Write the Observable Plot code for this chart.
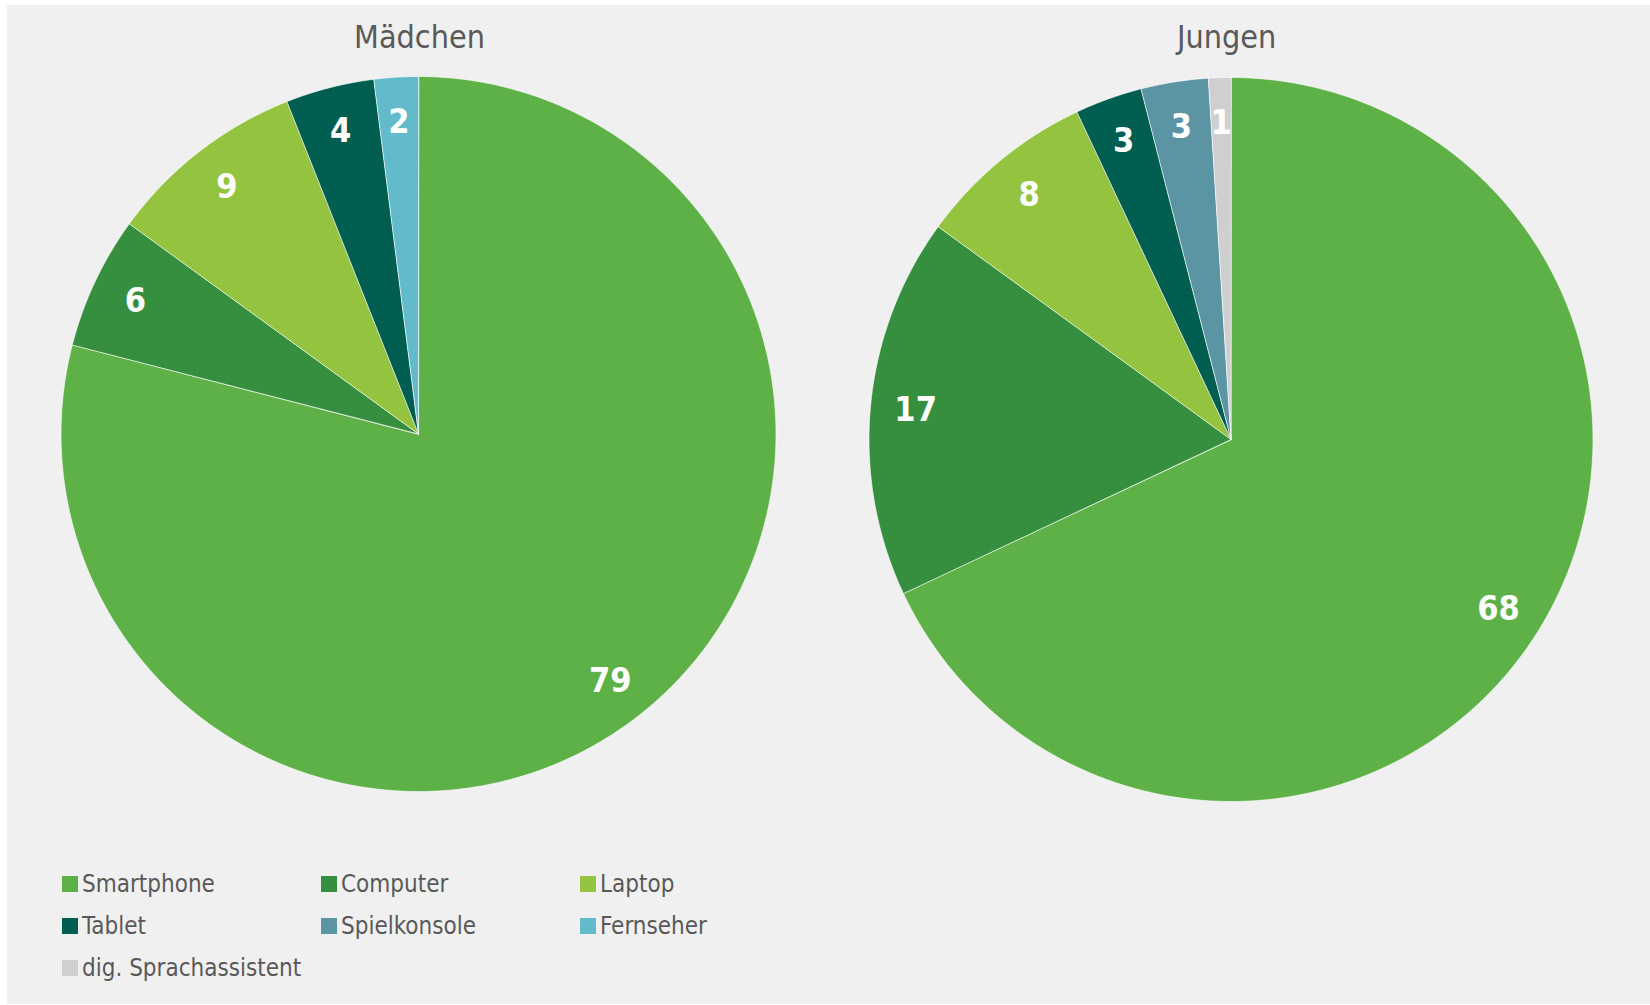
<!DOCTYPE html>
<html>
<head>
<meta charset="utf-8">
<script src="https://cdn.jsdelivr.net/npm/d3@7"></script>
<script src="https://cdn.jsdelivr.net/npm/@observablehq/plot@0.6"></script>
<style>
  html, body { margin: 0; padding: 0; background: #ffffff; width: 1650px; height: 1005px; overflow: hidden; }
  .ff { font-family: "DejaVu Sans Condensed", "Liberation Sans Narrow", "DejaVu Sans", sans-serif; font-stretch: condensed; }
  #panel { position: absolute; left: 7px; top: 5px; width: 1643px; height: 999px; background: #f0f0f0; }
  .pie { position: absolute; top: 0; width: 825px; height: 840px; }
  #legend { position: absolute; left: 62px; top: 863px; display: grid; grid-template-columns: 259px 259px 259px; grid-auto-rows: 42px; color: #595959; font-size: 24px; }
  .item { display: flex; align-items: center; white-space: nowrap; }
  .sw { width: 16px; height: 16px; margin-right: 4px; flex: none; }
</style>
</head>
<body>
<div id="panel"></div>
<div id="girls" class="pie"></div>
<div id="boys" class="pie" style="left:825px"></div>
<div id="legend" class="ff"></div>
<script>
// ---- data ----
const categories = ["Smartphone", "Computer", "Laptop", "Tablet", "Spielkonsole", "Fernseher", "dig. Sprachassistent"];
const colors = ["#5db146", "#368f3e", "#93c33f", "#005e50", "#5b94a3", "#62bacb", "#d0cfd0"];
const groups = ["Mädchen", "Jungen"];
const maedchen = [79, 6, 9, 4, 0, 2, 0];
const jungen = [68, 17, 8, 3, 3, 0, 1];

const FONT = '"DejaVu Sans Condensed", "Liberation Sans Narrow", "DejaVu Sans", sans-serif';
const LABEL_R = 0.875;

function pieParts(values) {
  const rows = categories.map((c, i) => ({cat: c, value: values[i]})).filter(d => d.value > 0);
  const arcs = d3.pie().sort(null).value(d => d.value)(rows);
  const pts = [];
  const labels = [];
  for (const a of arcs) {
    pts.push({cat: a.data.cat, x: 0, y: 0});
    const n = Math.max(2, Math.ceil((a.endAngle - a.startAngle) / 0.005));
    for (let k = 0; k <= n; k++) {
      const t = a.startAngle + (a.endAngle - a.startAngle) * k / n;
      pts.push({cat: a.data.cat, x: Math.sin(t), y: Math.cos(t)});
    }
    const m = (a.startAngle + a.endAngle) / 2;
    labels.push({cat: a.data.cat, value: a.data.value, x: LABEL_R * Math.sin(m), y: LABEL_R * Math.cos(m)});
  }
  return {pts, labels};
}

function pie(values, title, margins, titleDx, titleDy) {
  const {pts, labels} = pieParts(values);
  return Plot.plot({
    width: 825,
    height: 840,
    ...margins,
    x: {domain: [-1, 1], axis: null},
    y: {domain: [-1, 1], axis: null},
    color: {domain: categories, range: colors},
    style: {background: "transparent", overflow: "visible", fontFamily: FONT},
    marks: [
      Plot.line(pts, {x: "x", y: "y", z: "cat", fill: "cat", stroke: "#ffffff", strokeWidth: 0.8, strokeOpacity: 0.8, curve: "linear-closed"}),
      Plot.text(labels, {x: "x", y: "y", text: d => String(d.value), fill: "#ffffff", fontSize: 34, fontWeight: "bold", fontFamily: FONT}),
      Plot.text([title], {frameAnchor: "top", text: d => d, dx: titleDx, dy: titleDy, fontSize: 32, fill: "#595959", fontFamily: FONT})
    ]
  });
}

document.getElementById("girls").append(
  pie(maedchen, groups[0], {marginLeft: 60.5, marginRight: 49.5, marginTop: 76, marginBottom: 49}, 1, -51.5)
);
document.getElementById("boys").append(
  pie(jungen, groups[1], {marginLeft: 43.5, marginRight: 57.5, marginTop: 77, marginBottom: 39}, -4.5, -52.5)
);

const legend = document.getElementById("legend");
categories.forEach((c, i) => {
  const item = document.createElement("div");
  item.className = "item";
  const sw = document.createElement("span");
  sw.className = "sw";
  sw.style.background = colors[i];
  const tx = document.createElement("span");
  tx.textContent = c;
  item.append(sw, tx);
  legend.append(item);
});
</script>
</body>
</html>
